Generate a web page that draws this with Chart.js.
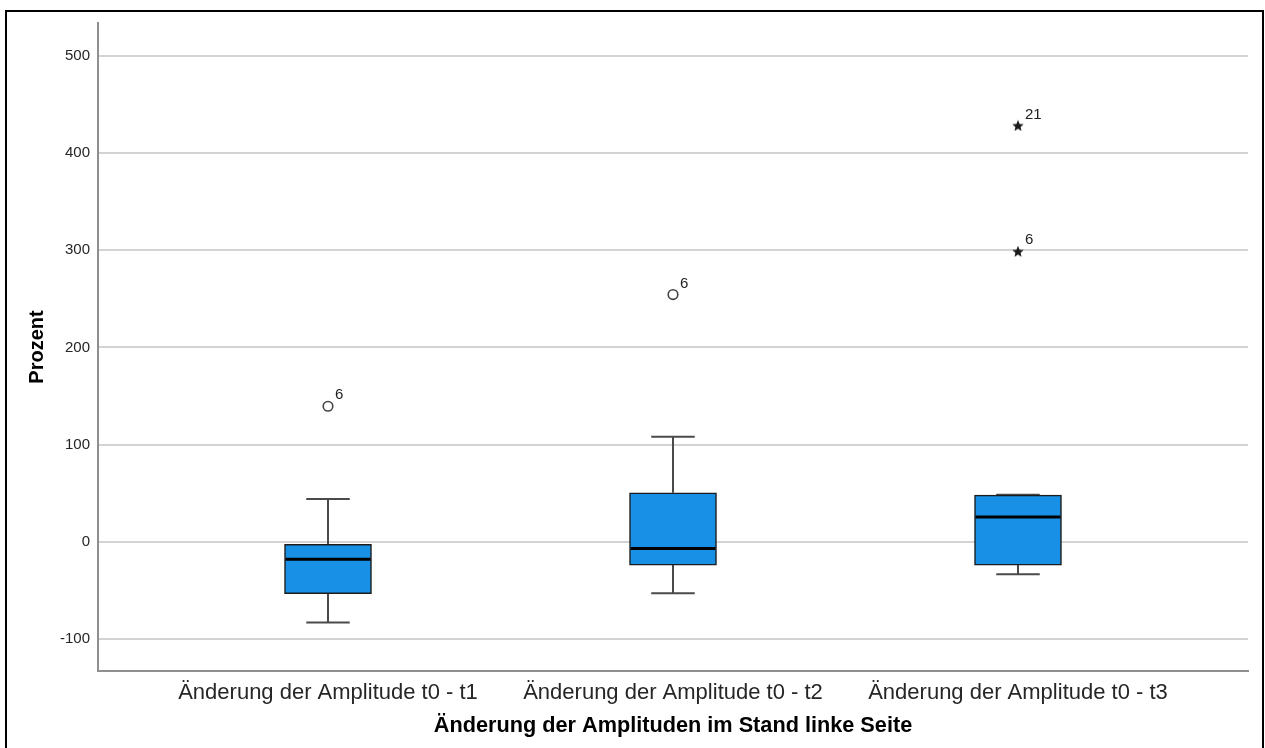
<!DOCTYPE html>
<html>
<head>
<meta charset="utf-8">
<script src="https://cdn.jsdelivr.net/npm/chart.js@4.4.1/dist/chart.umd.min.js"></script>
<style>
  html, body { margin: 0; padding: 0; background: #ffffff; }
  #wrap { width: 1265px; height: 748px; }
</style>
</head>
<body>
<div id="wrap"><canvas id="c" width="1265" height="748"></canvas></div>
<script>
// Box plot: Änderung der Amplituden im Stand linke Seite (Prozent)
const categories = [
  'Änderung der Amplitude t0 - t1',
  'Änderung der Amplitude t0 - t2',
  'Änderung der Amplitude t0 - t3'
];
const boxPos = [1, 2, 3];
const lowerWhisker = [-83, -53, -33.5];
const q1 = [-53.5, -24, -24];
const median = [-18, -7, 25.5];
const q3 = [-2.7, 50.5, 48];
const upperWhisker = [44, 108, 48.5];

// outliers (circle) and extreme values (star) with case numbers
const outlierPos = [1, 2];
const outlierValue = [139.5, 254.5];
const outlierCase = ['6', '6'];
const extremePos = [3, 3];
const extremeValue = [428.5, 299];
const extremeCase = ['21', '6'];

const yTickValues = [-100, 0, 100, 200, 300, 400, 500];

const FONT = '"Liberation Sans", Arial, Helvetica, sans-serif';
Chart.defaults.font.family = FONT;

// filled five-pointed star used for extreme values
function makeStar(size, color) {
  const cv = document.createElement('canvas');
  cv.width = size; cv.height = size;
  const g = cv.getContext('2d');
  const cx = size / 2, cy = size / 2 + 0.6;
  const ro = size / 2, ri = ro * 0.45;
  g.beginPath();
  for (let i = 0; i < 10; i++) {
    const r = i % 2 === 0 ? ro : ri;
    const a = -Math.PI / 2 + i * Math.PI / 5;
    const px = cx + r * Math.cos(a), py = cy + r * Math.sin(a);
    if (i === 0) g.moveTo(px, py); else g.lineTo(px, py);
  }
  g.closePath();
  g.fillStyle = color;
  g.fill();
  return cv;
}
const starImg = makeStar(12, '#1a1a1a');

const boxData = boxPos.map((x, i) => ({ x: x, y: [q1[i], q3[i]] }));
const outlierData = outlierPos.map((x, i) => ({ x: x, y: outlierValue[i] }));
const extremeData = extremePos.map((x, i) => ({ x: x, y: extremeValue[i] }));

// whiskers below the boxes, medians above them
const boxPlotParts = {
  id: 'boxPlotParts',
  beforeDatasetsDraw(chart) {
    const { ctx, scales: { x, y } } = chart;
    const meta = chart.getDatasetMeta(0);
    ctx.save();
    ctx.strokeStyle = '#4a4a4a';
    ctx.lineWidth = 2;
    boxPos.forEach((p, i) => {
      const cx = x.getPixelForValue(p);
      const half = meta.data[i].width / 4;
      const yHi = y.getPixelForValue(upperWhisker[i]);
      const yLo = y.getPixelForValue(lowerWhisker[i]);
      ctx.beginPath();
      ctx.moveTo(cx, y.getPixelForValue(q3[i]));
      ctx.lineTo(cx, yHi);
      ctx.moveTo(cx, y.getPixelForValue(q1[i]));
      ctx.lineTo(cx, yLo);
      ctx.moveTo(cx - half, yHi);
      ctx.lineTo(cx + half, yHi);
      ctx.moveTo(cx - half, yLo);
      ctx.lineTo(cx + half, yLo);
      ctx.stroke();
    });
    ctx.restore();
  },
  afterDatasetsDraw(chart) {
    const { ctx, scales: { x, y } } = chart;
    const meta = chart.getDatasetMeta(0);
    ctx.save();
    ctx.strokeStyle = '#000000';
    ctx.lineWidth = 3;
    boxPos.forEach((p, i) => {
      const cx = x.getPixelForValue(p);
      const half = meta.data[i].width / 2;
      const ym = y.getPixelForValue(median[i]);
      ctx.beginPath();
      ctx.moveTo(cx - half + 1, ym);
      ctx.lineTo(cx + half - 1, ym);
      ctx.stroke();
    });
    // case numbers next to outliers
    ctx.fillStyle = '#222222';
    ctx.font = '15px ' + FONT;
    ctx.textAlign = 'left';
    ctx.textBaseline = 'middle';
    const label = (dsIndex, cases) => {
      chart.getDatasetMeta(dsIndex).data.forEach((el, i) => {
        ctx.fillText(cases[i], el.x + 7, el.y - 11);
      });
    };
    label(1, outlierCase);
    label(2, extremeCase);
    ctx.restore();
  },
  afterDraw(chart) {
    // outer frame
    const { ctx } = chart;
    ctx.save();
    ctx.strokeStyle = '#000000';
    ctx.lineWidth = 2;
    ctx.beginPath();
    ctx.moveTo(6, 760);
    ctx.lineTo(6, 11);
    ctx.lineTo(1263, 11);
    ctx.lineTo(1263, 760);
    ctx.stroke();
    ctx.restore();
  }
};

new Chart(document.getElementById('c'), {
  type: 'bar',
  data: {
    datasets: [
      {
        type: 'bar',
        data: boxData,
        backgroundColor: '#1790e6',
        borderColor: '#1c1c1c',
        borderWidth: 1.5,
        borderSkipped: false,
        barThickness: 87,
        grouped: false,
        order: 3
      },
      {
        type: 'scatter',
        data: outlierData,
        pointStyle: 'circle',
        pointRadius: 4.8,
        pointBorderWidth: 1.6,
        pointBorderColor: '#444444',
        pointBackgroundColor: '#ffffff',
        order: 1
      },
      {
        type: 'scatter',
        data: extremeData,
        pointStyle: starImg,
        pointRadius: 6,
        order: 1
      }
    ]
  },
  options: {
    responsive: false,
    animation: false,
    events: [],
    layout: { padding: { left: 0, right: 17, top: 23, bottom: 0 } },
    plugins: {
      legend: { display: false },
      tooltip: { enabled: false }
    },
    scales: {
      x: {
        type: 'linear',
        min: 1 / 3,
        max: 11 / 3,
        offset: false,
        afterFit(scale) { scale.height = 77; },
        afterBuildTicks(scale) { scale.ticks = boxPos.map(v => ({ value: v })); },
        grid: { display: false, drawTicks: false },
        border: { display: true, color: '#8f8f8f', width: 2 },
        ticks: {
          padding: 9,
          color: '#262626',
          font: { size: 22 },
          maxRotation: 0,
          autoSkip: false,
          callback: (v) => categories[boxPos.indexOf(v)]
        },
        title: {
          display: true,
          text: 'Änderung der Amplituden im Stand linke Seite',
          color: '#000000',
          font: { size: 21.7, weight: 'bold' },
          padding: { top: 0, bottom: 9 }
        }
      },
      y: {
        type: 'linear',
        min: -133,
        max: 534,
        afterFit(scale) { scale.width = 98; },
        afterBuildTicks(scale) { scale.ticks = yTickValues.map(v => ({ value: v })); },
        grid: { color: '#d3d3d3', lineWidth: 2, drawTicks: false },
        border: { display: true, color: '#8f8f8f', width: 2 },
        ticks: {
          padding: 8,
          color: '#262626',
          font: { size: 15 }
        },
        title: {
          display: true,
          text: 'Prozent',
          color: '#000000',
          font: { size: 20, weight: 'bold' },
          padding: { top: 25, bottom: 0 }
        }
      }
    }
  },
  plugins: [boxPlotParts]
});
</script>
</body>
</html>
